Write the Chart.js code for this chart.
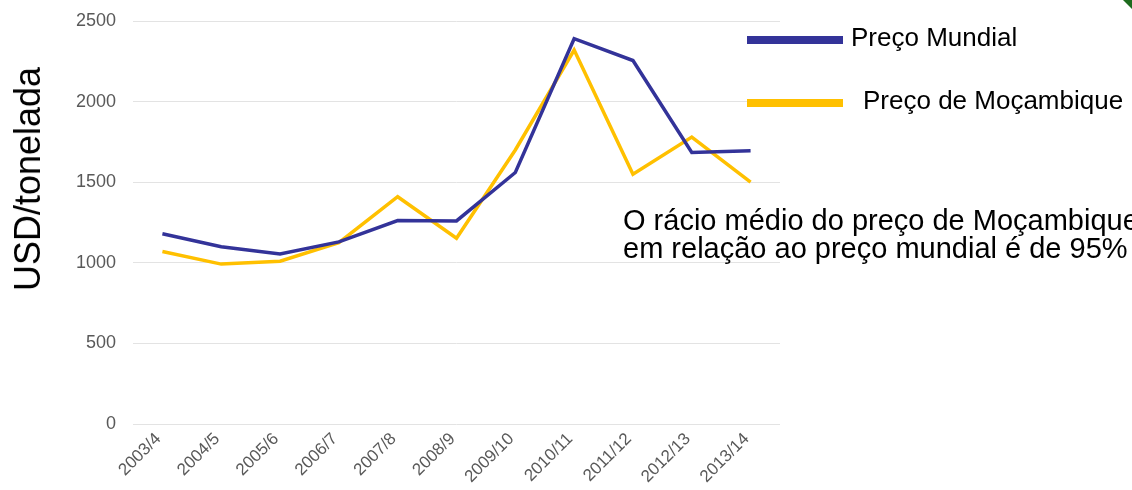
<!DOCTYPE html>
<html>
<head>
<meta charset="utf-8">
<script src="https://cdn.jsdelivr.net/npm/chart.js@4"></script>
<style>
    html, body { margin: 0; padding: 0; background: #fff; }
    body { width: 1132px; height: 490px; position: relative; overflow: hidden; font-family: "Liberation Sans", Arial, sans-serif; }
    #chartWrap { position: absolute; left: 0; top: 0; width: 800px; height: 490px; }
    #yTitle { position: absolute; left: 28px; top: 179px; transform: translate(-50%, -50%) rotate(-90deg); font-size: 36px; color: #000; white-space: nowrap; }
    .legend-item { position: absolute; left: 747px; white-space: nowrap; color: #000; font-size: 26px; }
    .legend-item .swatch { position: absolute; left: 0; width: 96px; height: 8px; }
    .legend-item .label { position: absolute; white-space: nowrap; }
    #note { position: absolute; left: 623px; top: 206px; font-size: 29px; line-height: 28px; color: #000; white-space: nowrap; }
    #corner { position: absolute; right: 0; top: 0; width: 0; height: 0; border-top: 9px solid #1d6b1d; border-left: 9px solid transparent; }
</style>
</head>
<body>
<div id="chartWrap"><canvas id="priceChart"></canvas></div>
<div id="yTitle">USD/tonelada</div>
<div id="legend"></div>
<div id="note">O rácio médio do preço de Moçambique<br>em relação ao preço mundial é de 95%</div>
<div id="corner"></div>
<script>
const categories = ['2003/4', '2004/5', '2005/6', '2006/7', '2007/8', '2008/9', '2009/10', '2010/11', '2011/12', '2012/13', '2013/14'];
const precoMundial = [1180, 1100, 1055, 1130, 1262, 1260, 1560, 2390, 2255, 1685, 1695];
const precoMocambique = [1070, 992, 1010, 1125, 1410, 1152, 1700, 2320, 1550, 1780, 1500];
const yTicks = [0, 500, 1000, 1500, 2000, 2500];

const seriesColors = ['#333399', '#FFC000'];

const chart = new Chart(document.getElementById('priceChart'), {
    type: 'line',
    data: {
        labels: categories,
        datasets: [{
            label: 'Preço Mundial',
            data: precoMundial,
            borderColor: seriesColors[0],
            borderWidth: 3.5,
            pointRadius: 0,
            tension: 0
        }, {
            label: 'Preço de Moçambique',
            data: precoMocambique,
            borderColor: seriesColors[1],
            borderWidth: 3.5,
            pointRadius: 0,
            tension: 0
        }]
    },
    options: {
        responsive: true,
        maintainAspectRatio: false,
        animation: false,
        layout: { padding: { left: 0, right: 20, top: 21, bottom: 0 } },
        plugins: {
            legend: { display: false },
            tooltip: { enabled: false }
        },
        scales: {
            x: {
                offset: true,
                grid: { display: false, drawTicks: false },
                border: { display: false },
                afterFit: s => { s.height = 66; },
                ticks: {
                    autoSkip: false,
                    maxRotation: 45,
                    minRotation: 45,
                    padding: 5,
                    labelOffset: -4,
                    color: '#595959',
                    font: { family: '"Liberation Sans", Arial, sans-serif', size: 17 }
                }
            },
            y: {
                min: 0,
                max: 2500,
                afterFit: s => { s.width = 133; s.paddingTop = 0; s.paddingBottom = 0; },
                afterBuildTicks: s => { s.ticks = yTicks.map(v => ({ value: v })); },
                grid: { color: '#e3e3e3', lineWidth: 1, drawTicks: false },
                border: { display: false },
                ticks: {
                    padding: 17,
                    color: '#595959',
                    callback: v => String(v),
                    font: { family: '"Liberation Sans", Arial, sans-serif', size: 18 }
                }
            }
        }
    }
});

// legend placed to the right of the plot, like the slide
const legendTops = [22, 85];
const labelOffsets = [104, 116];
const legendBox = document.getElementById('legend');
chart.data.datasets.forEach((ds, i) => {
    const item = document.createElement('div');
    item.className = 'legend-item';
    item.style.top = legendTops[i] + 'px';
    item.innerHTML = '<div class="swatch" style="top:14px;background:' + ds.borderColor + '"></div>' +
        '<div class="label" style="left:' + labelOffsets[i] + 'px;top:0">' + ds.label + '</div>';
    legendBox.appendChild(item);
});
</script>
</body>
</html>
